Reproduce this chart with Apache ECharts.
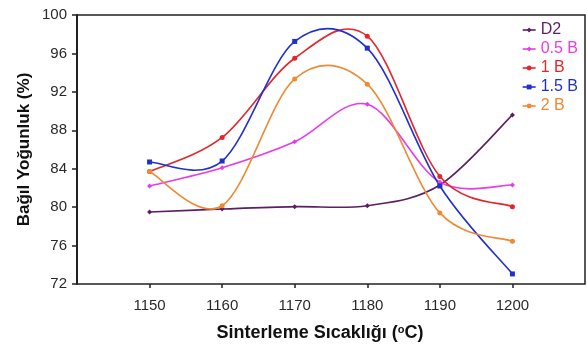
<!DOCTYPE html>
<html>
<head>
<meta charset="utf-8">
<script src="https://cdn.jsdelivr.net/npm/echarts@6/dist/echarts.min.js"></script>
<style>
  html, body { margin: 0; padding: 0; background: #fff; }
  #main { width: 587px; height: 347px; }
</style>
</head>
<body>
<div id="main"></div>
<script>
// sintering temperatures (°C)
const temps = [1150, 1160, 1170, 1180, 1190, 1200];

// relative density (%) per additive amount
const d2 = [79.5, 79.8, 80.05, 80.15, 82.3, 89.6];
const b05 = [82.2, 84.1, 86.8, 90.7, 82.6, 82.3];
const b1 = [83.7, 87.25, 95.5, 97.8, 83.2, 80.05];
const b15 = [84.7, 84.8, 97.25, 96.55, 82.2, 73.05];
const b2 = [83.7, 80.15, 93.35, 92.8, 79.4, 76.45];

const seriesNames = ['D2', '0.5 B', '1 B', '1.5 B', '2 B'];
const seriesColors = ['#5c1f63', '#e83be8', '#e3262b', '#2030cc', '#ee8a33'];
const seriesData = [d2, b05, b1, b15, b2];
const seriesSymbols = ['diamond', 'diamond', 'circle', 'rect', 'circle'];

const FONT = 'Liberation Sans, Arial, sans-serif';

// Excel-like smoothed curve (Catmull-Rom), points mapped through the axes
function smoothCurve(values, color) {
  return function (params, api) {
    if (params.dataIndex !== 0) return null;
    const pts = temps.map((t, j) => api.coord([t, values[j]]));
    const n = pts.length;
    let d = 'M' + pts[0][0] + ',' + pts[0][1];
    for (let j = 0; j < n - 1; j++) {
      const p0 = pts[Math.max(j - 1, 0)];
      const p1 = pts[j];
      const p2 = pts[j + 1];
      const p3 = pts[Math.min(j + 2, n - 1)];
      const c1x = p1[0] + (p2[0] - p0[0]) / 6;
      const c1y = p1[1] + (p2[1] - p0[1]) / 6;
      const c2x = p2[0] - (p3[0] - p1[0]) / 6;
      const c2y = p2[1] - (p3[1] - p1[1]) / 6;
      d += ' C' + c1x + ',' + c1y + ' ' + c2x + ',' + c2y + ' ' + p2[0] + ',' + p2[1];
    }
    return {
      type: 'path',
      shape: { pathData: d },
      style: { fill: null, stroke: color, lineWidth: 1.6 },
      silent: true,
    };
  };
}

const myChart = echarts.init(document.getElementById('main'));

const markerSeries = seriesNames.map((name, i) => ({
  name: name,
  type: 'line',
  symbol: seriesSymbols[i],
  symbolSize: 5,
  color: seriesColors[i],
  lineStyle: { width: 1.6, color: seriesColors[i], opacity: 0 },
  z: 3,
  data: temps.map((t, j) => [t, seriesData[i][j]]),
}));

const curveSeries = seriesNames.map((name, i) => ({
  name: name,
  type: 'custom',
  renderItem: smoothCurve(seriesData[i], seriesColors[i]),
  z: 2,
  data: temps.map((t, j) => [t, seriesData[i][j]]),
}));

const option = {
  animation: false,
  grid: {
    left: 77,
    top: 15,
    right: 2,
    bottom: 60,
    show: true,
    borderColor: '#222',
    borderWidth: 1.5,
  },
  legend: {
    orient: 'vertical',
    right: 4,
    top: 17,
    itemWidth: 13,
    itemHeight: 6,
    itemGap: 3,
    textStyle: { fontFamily: FONT, fontSize: 16 },
    data: seriesNames.map((name, i) => ({
      name: name,
      textStyle: { color: seriesColors[i] },
      lineStyle: { opacity: 1, color: seriesColors[i], width: 1.6 },
    })),
  },
  xAxis: {
    type: 'value',
    min: 1140,
    max: 1210,
    interval: 10,
    name: 'Sinterleme Sıcaklığı ({sup|o}C)',
    nameLocation: 'middle',
    nameGap: 40,
    nameTextStyle: {
      fontFamily: FONT,
      fontSize: 18,
      fontWeight: 'bold',
      color: '#111',
      padding: [0, 22, 0, 0],
      rich: {
        sup: {
          fontFamily: FONT,
          fontSize: 11,
          fontWeight: 'bold',
          color: '#111',
          verticalAlign: 'top',
          padding: [0, 0, 7, 0],
        },
      },
    },
    axisLine: { show: false },
    axisTick: {
      show: true,
      length: 4,
      customValues: temps,
      lineStyle: { color: '#222', width: 1.5 },
    },
    splitLine: { show: false },
    axisLabel: {
      fontFamily: FONT,
      fontSize: 15,
      color: '#2a2a2a',
      margin: 14,
      customValues: temps,
      formatter: function (value) {
        return String(value);
      },
    },
  },
  yAxis: {
    type: 'value',
    min: 72,
    max: 100,
    interval: 4,
    name: 'Bağıl Yoğunluk (%)',
    nameLocation: 'middle',
    nameGap: 44,
    nameMoveOverlap: false,
    nameTextStyle: {
      fontFamily: FONT,
      fontSize: 17,
      fontWeight: 'bold',
      color: '#111',
    },
    axisLine: { show: true, lineStyle: { color: '#222', width: 2 } },
    axisTick: { show: true, length: 5, lineStyle: { color: '#222', width: 1.5 } },
    splitLine: { show: false },
    axisLabel: {
      fontFamily: FONT,
      fontSize: 15,
      color: '#2a2a2a',
      margin: 10,
    },
  },
  series: markerSeries.concat(curveSeries),
};

myChart.setOption(option);
</script>
</body>
</html>
